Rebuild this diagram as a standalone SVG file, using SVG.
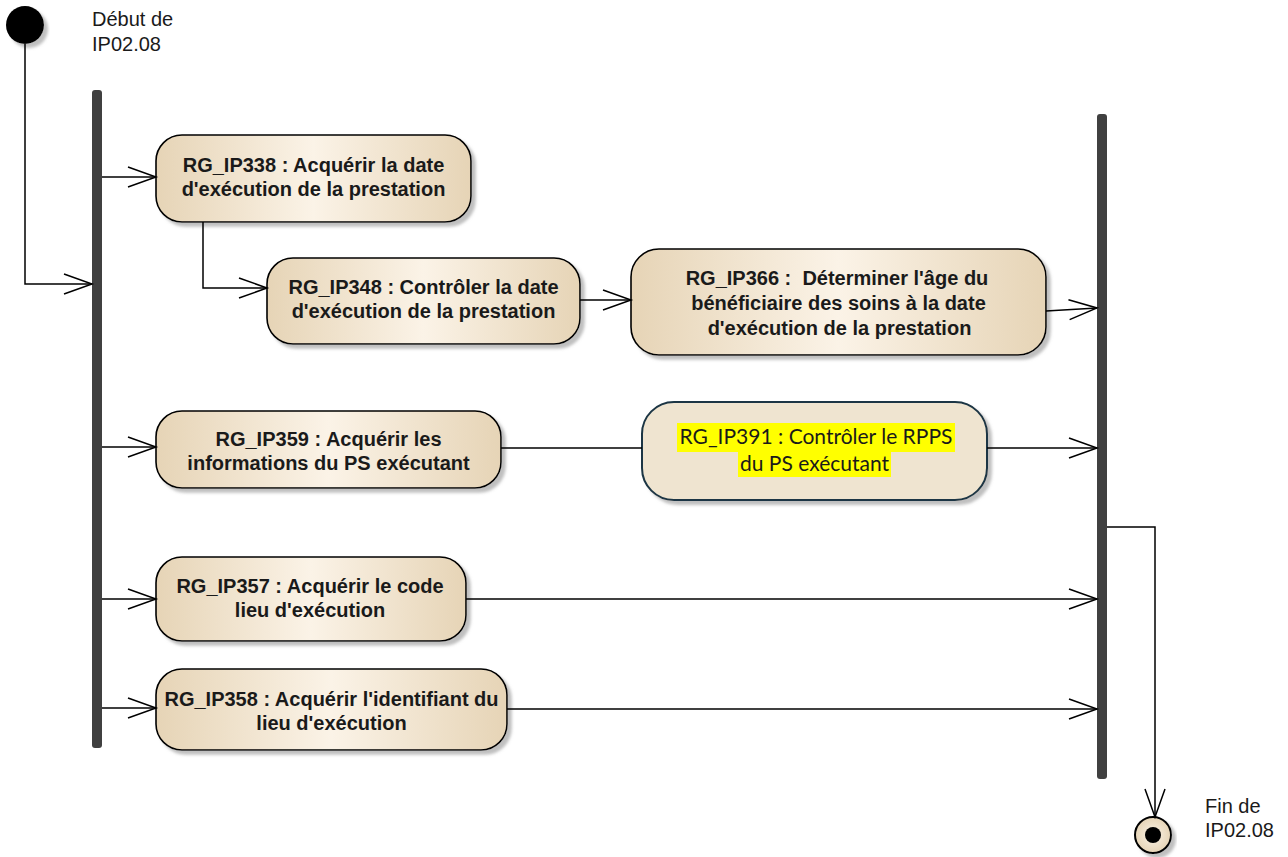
<svg xmlns="http://www.w3.org/2000/svg" width="1288" height="857" viewBox="0 0 1288 857">
<defs>
<linearGradient id="nodeGrad" x1="0" y1="0" x2="1" y2="0">
<stop offset="0" stop-color="#e6d4b6"/>
<stop offset="0.5" stop-color="#fbf3e7"/>
<stop offset="1" stop-color="#e6d4b6"/>
</linearGradient>
<radialGradient id="endGrad" cx="0.5" cy="0.5" r="0.5">
<stop offset="0" stop-color="#fbf3e7"/>
<stop offset="1" stop-color="#e6d4b6"/>
</radialGradient>
<filter id="shadow" x="-10%" y="-10%" width="125%" height="130%">
<feDropShadow dx="4" dy="4" stdDeviation="1.5" flood-color="#8a8a8a" flood-opacity="0.55"/>
</filter>
<marker id="arrow" markerUnits="userSpaceOnUse" markerWidth="32" markerHeight="24" refX="28" refY="11" orient="auto" overflow="visible">
<path d="M0,1 L28,11 L0,21" fill="none" stroke="#000" stroke-width="1.5"/>
</marker>
</defs>
<style>
.node{fill:url(#nodeGrad);stroke:#000;stroke-width:1.6;filter:url(#shadow)}
.node2{fill:#efe4d0;stroke:#1c3644;stroke-width:2;filter:url(#shadow)}
.bar{fill:#404040}
.lbl{font-family:"Liberation Sans",Arial,sans-serif;font-size:20px;font-weight:bold;fill:#1a1a1a;text-anchor:middle;white-space:pre}
.lbl2{font-family:Lato,"Noto Sans",sans-serif;font-size:21px;fill:#1a1a1a;text-anchor:middle}
.note{font-family:"Liberation Sans",Arial,sans-serif;font-size:20px;fill:#1a1a1a}
.conn{fill:none;stroke:#000;stroke-width:1.5}
.hl{fill:#ffff00}
</style>
<rect width="1288" height="857" fill="#fff"/>

<g id="start">
<circle cx="25" cy="25" r="19" fill="#000" filter="url(#shadow)"/>
<text class="note" x="92" y="26">Début de</text>
<text class="note" x="92" y="51">IP02.08</text>
</g>

<g id="fork">
<rect class="bar" x="92" y="90" width="10" height="658" rx="3"/>
</g>
<g id="join">
<rect class="bar" x="1097" y="114" width="10" height="665" rx="3"/>
</g>

<g id="RG_IP338">
<rect class="node" x="156" y="135" width="315" height="87" rx="26"/>
<text class="lbl" x="313.5" y="172">RG_IP338 : Acquérir la date</text>
<text class="lbl" x="313.5" y="196">d'exécution de la prestation</text>
</g>

<g id="RG_IP348">
<rect class="node" x="267" y="258" width="313" height="86" rx="26"/>
<text class="lbl" x="423.5" y="294">RG_IP348 : Contrôler la date</text>
<text class="lbl" x="423.5" y="318">d'exécution de la prestation</text>
</g>

<g id="RG_IP366">
<rect class="node" x="631" y="249" width="415" height="106" rx="28"/>
<text class="lbl" x="837" y="285">RG_IP366 :  Déterminer l'âge du</text>
<text class="lbl" x="838.5" y="310">bénéficiaire des soins à la date</text>
<text class="lbl" x="839.5" y="335">d'exécution de la prestation</text>
</g>

<g id="RG_IP359">
<rect class="node" x="156" y="411" width="345" height="77" rx="26"/>
<text class="lbl" x="328.5" y="446">RG_IP359 : Acquérir les</text>
<text class="lbl" x="328.5" y="470">informations du PS exécutant</text>
</g>

<g id="RG_IP391">
<rect class="node2" x="642" y="402" width="345" height="98" rx="32"/>
<rect class="hl" x="677" y="423" width="278" height="29"/>
<rect class="hl" x="738" y="452" width="153" height="25"/>
<text class="lbl2" x="816" y="444">RG_IP391 : Contrôler le RPPS</text>
<text class="lbl2" x="814.5" y="471">du PS exécutant</text>
</g>

<g id="RG_IP357">
<rect class="node" x="156" y="557" width="310" height="84" rx="26"/>
<text class="lbl" x="310" y="593">RG_IP357 : Acquérir le code</text>
<text class="lbl" x="310" y="617">lieu d'exécution</text>
</g>

<g id="RG_IP358">
<rect class="node" x="156" y="669" width="351" height="81" rx="26"/>
<text class="lbl" x="331.5" y="706">RG_IP358 : Acquérir l'identifiant du</text>
<text class="lbl" x="331.5" y="730">lieu d'exécution</text>
</g>

<g id="end">
<circle cx="1153" cy="835" r="18" fill="url(#endGrad)" stroke="#000" stroke-width="2" filter="url(#shadow)"/>
<circle cx="1153" cy="835" r="8" fill="#000"/>
<text class="note" x="1205" y="813">Fin de</text>
<text class="note" x="1205" y="837">IP02.08</text>
</g>

<g id="connectors">
<path class="conn" d="M25,44 L25,284 L92,284" marker-end="url(#arrow)"/>
<path class="conn" d="M102,177 L156,177" marker-end="url(#arrow)"/>
<path class="conn" d="M203,222 L203,288 L267,288" marker-end="url(#arrow)"/>
<path class="conn" d="M580,300 L631,300" marker-end="url(#arrow)"/>
<path class="conn" d="M1046,311 L1097,308" marker-end="url(#arrow)"/>
<path class="conn" d="M102,447 L156,447" marker-end="url(#arrow)"/>
<path class="conn" d="M501,448 L642,448"/>
<path class="conn" d="M987,448 L1097,448" marker-end="url(#arrow)"/>
<path class="conn" d="M102,599 L156,599" marker-end="url(#arrow)"/>
<path class="conn" d="M466,599 L1097,599" marker-end="url(#arrow)"/>
<path class="conn" d="M102,708 L156,708" marker-end="url(#arrow)"/>
<path class="conn" d="M507,709 L1097,709" marker-end="url(#arrow)"/>
<path class="conn" d="M1107,527 L1155,527 L1155,817" marker-end="url(#arrow)"/>
</g>
</svg>
